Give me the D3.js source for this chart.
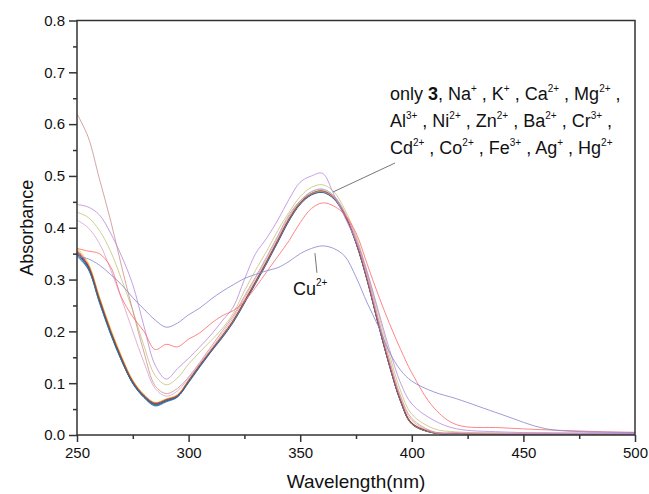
<!DOCTYPE html>
<html>
<head>
<meta charset="utf-8">
<script src="https://cdn.jsdelivr.net/npm/d3@7"></script>
<style>
  body { margin: 0; background: #fff; }
  svg { font-family: Arial, "Liberation Sans", sans-serif; }
</style>
</head>
<body>
<svg id="chart" width="649" height="494"></svg>
<script>
// wavelengths (nm)
const wl = [250,255,260,265,270,275,280,285,290,295,300,305,310,315,320,325,330,335,340,345,350,355,360,365,370,375,380,385,390,395,400,410,420,440,460,480,500];

// absorbance per sample
const only3 = [.352,.326,.262,.200,.147,.102,.075,.060,.068,.075,.104,.134,.162,.190,.220,.257,.295,.334,.375,.416,.447,.465,.470,.458,.425,.372,.300,.215,.135,.066,.022,.004,.003,.002,.003,.002,.003];
const na = [.350,.322,.258,.196,.143,.100,.073,.058,.066,.074,.102,.133,.161,.189,.219,.256,.294,.333,.374,.415,.446,.464,.469,.457,.424,.371,.299,.214,.134,.065,.021,.004,.003,.002,.002,.003,.002];
const k = [.345,.320,.256,.195,.143,.099,.072,.056,.064,.073,.101,.131,.160,.187,.217,.254,.292,.331,.372,.413,.445,.463,.468,.456,.423,.370,.298,.213,.133,.064,.021,.004,.002,.003,.002,.002,.002];
const ca = [.348,.323,.259,.198,.146,.101,.074,.059,.067,.075,.104,.134,.163,.191,.221,.259,.297,.337,.378,.419,.451,.469,.474,.462,.428,.374,.302,.216,.136,.067,.023,.005,.003,.003,.002,.002,.003];
const mg = [.356,.328,.264,.202,.149,.104,.077,.062,.069,.077,.106,.136,.164,.191,.221,.258,.296,.335,.376,.417,.448,.466,.471,.459,.426,.373,.301,.216,.136,.067,.023,.005,.003,.002,.003,.003,.002];
const al = [.362,.332,.268,.206,.152,.106,.078,.063,.070,.078,.106,.136,.164,.192,.222,.259,.297,.336,.377,.418,.449,.467,.472,.460,.427,.375,.303,.218,.138,.069,.024,.005,.003,.003,.002,.002,.003];
const ni = [.350,.324,.260,.198,.145,.100,.074,.059,.066,.074,.103,.133,.162,.189,.219,.256,.294,.333,.374,.415,.446,.464,.469,.457,.424,.371,.299,.214,.134,.065,.022,.004,.003,.002,.002,.002,.003];
const zn = [.347,.321,.257,.197,.144,.100,.073,.057,.065,.074,.102,.132,.161,.188,.218,.255,.293,.332,.373,.414,.446,.464,.469,.457,.424,.371,.299,.214,.134,.065,.022,.004,.003,.003,.002,.002,.002];
const ba = [.358,.330,.266,.204,.150,.105,.078,.062,.069,.077,.105,.135,.163,.190,.220,.257,.295,.334,.375,.416,.447,.465,.470,.458,.425,.372,.300,.215,.135,.066,.022,.004,.003,.002,.003,.002,.002];
const cr = [.354,.327,.263,.201,.148,.103,.076,.061,.068,.076,.105,.135,.163,.191,.221,.258,.296,.335,.376,.417,.448,.466,.471,.459,.426,.373,.301,.216,.136,.067,.023,.005,.003,.002,.002,.003,.002];
const cd = [.430,.420,.395,.355,.300,.240,.172,.115,.097,.110,.137,.160,.182,.205,.235,.278,.318,.355,.395,.430,.460,.478,.483,.470,.435,.385,.315,.235,.155,.085,.040,.012,.006,.004,.004,.003,.003];
const co = [.620,.575,.495,.415,.325,.240,.160,.095,.080,.090,.112,.140,.170,.200,.230,.268,.305,.344,.385,.425,.452,.466,.470,.458,.428,.380,.310,.225,.145,.075,.032,.006,.004,.003,.003,.002,.003];
const fe = [.415,.400,.370,.320,.262,.200,.140,.090,.075,.085,.110,.138,.166,.195,.226,.264,.302,.341,.382,.422,.452,.470,.475,.462,.430,.378,.306,.222,.142,.072,.028,.005,.004,.003,.002,.003,.002];
const ag = [.445,.440,.425,.390,.345,.290,.210,.135,.108,.128,.148,.170,.193,.220,.247,.300,.350,.380,.415,.455,.488,.500,.505,.465,.420,.375,.315,.240,.165,.100,.060,.028,.012,.006,.004,.004,.003];
const hg = [.360,.355,.350,.325,.265,.228,.200,.165,.175,.170,.185,.197,.215,.230,.240,.258,.285,.315,.345,.375,.410,.437,.448,.442,.425,.390,.330,.270,.215,.165,.120,.052,.020,.014,.010,.007,.005];
const cu = [.345,.340,.328,.310,.290,.265,.243,.222,.208,.216,.232,.245,.262,.277,.290,.302,.310,.317,.323,.335,.350,.360,.365,.360,.345,.305,.255,.210,.160,.125,.104,.083,.070,.040,.012,.006,.005];

const series = [
  {values: only3, color: "#222222"},
  {values: na, color: "#30b830"},
  {values: k, color: "#3050e0"},
  {values: ca, color: "#30d0e0"},
  {values: mg, color: "#d830d0"},
  {values: al, color: "#e0d830"},
  {values: ni, color: "#303088"},
  {values: zn, color: "#208080"},
  {values: ba, color: "#f09030"},
  {values: cr, color: "#a03050"},
  {values: cd, color: "#c8c078"},
  {values: co, color: "#c89090"},
  {values: fe, color: "#d8a0c8"},
  {values: ag, color: "#b888dc"},
  {values: hg, color: "#ff6868"},
  {values: cu, color: "#8484d0"}
];

const xTicks = [250, 300, 350, 400, 450, 500];
const yTicks = [0, 0.1, 0.2, 0.3, 0.4, 0.5, 0.6, 0.7, 0.8];

const svg = d3.select("#chart");
const margin = {left: 77, right: 14, top: 20.5, bottom: 59};
const W = 649, H = 494;

const x = d3.scaleLinear().domain([250, 500]).range([margin.left, W - margin.right]);
const y = d3.scaleLinear().domain([0, 0.8]).range([H - margin.bottom, margin.top]);

const line = d3.line()
  .x((d, i) => x(wl[i]))
  .y(d => y(d))
  .curve(d3.curveCatmullRom);

svg.append("g")
  .selectAll("path")
  .data(series)
  .join("path")
  .attr("d", d => line(d.values))
  .attr("fill", "none")
  .attr("stroke", d => d.color)
  .attr("stroke-width", 1)
  .attr("stroke-opacity", 0.8);

// frame
svg.append("rect")
  .attr("x", x(250)).attr("y", y(0.8))
  .attr("width", x(500) - x(250)).attr("height", y(0) - y(0.8))
  .attr("fill", "none").attr("stroke", "#333").attr("stroke-width", 1.5);

// axes
const xMinor = d3.axisBottom(x).tickValues([275, 325, 375, 425, 475]).tickSize(4).tickFormat("");
const yMinor = d3.axisLeft(y).tickValues([0.05, 0.15, 0.25, 0.35, 0.45, 0.55, 0.65, 0.75]).tickSize(4).tickFormat("");

const gx = svg.append("g").attr("transform", `translate(0,${y(0)})`);
gx.call(d3.axisBottom(x).tickValues(xTicks).tickSize(7).tickPadding(5).tickFormat(d3.format("d")));
gx.append("g").call(xMinor);

const gy = svg.append("g").attr("transform", `translate(${x(250)},0)`);
gy.call(d3.axisLeft(y).tickValues(yTicks).tickSize(8).tickPadding(4).tickFormat(d3.format(".1f")));
gy.append("g").call(yMinor);

svg.selectAll(".domain").remove();
svg.selectAll(".tick line").attr("stroke", "#333").attr("stroke-width", 1.5);
svg.selectAll(".tick text").attr("font-size", 15).attr("fill", "#111")
  .attr("font-family", "Arial, 'Liberation Sans', sans-serif");

// axis titles
svg.append("text")
  .attr("x", x(375)).attr("y", 488)
  .attr("text-anchor", "middle").attr("font-size", 19).attr("fill", "#111")
  .text("Wavelength(nm)");

svg.append("text")
  .attr("transform", `translate(33,${(y(0) + y(0.8)) / 2}) rotate(-90)`)
  .attr("text-anchor", "middle").attr("font-size", 18).attr("fill", "#111")
  .text("Absorbance");

// annotations
const ann = svg.append("g").attr("fill", "#111").attr("font-size", 18);

ann.append("line")
  .attr("x1", x(364.7)).attr("y1", y(0.469))
  .attr("x2", x(392.5)).attr("y2", y(0.525))
  .attr("stroke", "#777").attr("stroke-width", 1);

// [text, kind]: 0 normal, 1 superscript, 2 bold
const lines = [
  [["only ", 0], ["3", 2], [", Na", 0], ["+", 1], [" , K", 0], ["+", 1], [" , Ca", 0], ["2+", 1], [" , Mg", 0], ["2+", 1], [" ,", 0]],
  [["Al", 0], ["3+", 1], [" , Ni", 0], ["2+", 1], [" , Zn", 0], ["2+", 1], [" , Ba", 0], ["2+", 1], [" , Cr", 0], ["3+", 1], [" ,", 0]],
  [["Cd", 0], ["2+", 1], [" , Co", 0], ["2+", 1], [" , Fe", 0], ["3+", 1], [" , Ag", 0], ["+", 1], [" , Hg", 0], ["2+", 1]]
];
const baselines = [0.647, 0.595, 0.542];

lines.forEach((parts, i) => {
  const t = ann.append("text")
    .attr("x", x(390.2)).attr("y", y(baselines[i]))
    .attr("xml:space", "preserve");
  let up = false;
  parts.forEach(([s, kind]) => {
    const ts = t.append("tspan").text(s);
    if (kind === 1) {
      ts.attr("font-size", 10).attr("dy", -8);
      up = true;
    } else {
      if (up) ts.attr("dy", 8);
      up = false;
      if (kind === 2) ts.attr("font-weight", "bold");
    }
  });
});

ann.append("line")
  .attr("x1", x(356.6)).attr("y1", y(0.351))
  .attr("x2", x(357.5)).attr("y2", y(0.313))
  .attr("stroke", "#777").attr("stroke-width", 1);

const cuText = ann.append("text").attr("x", x(346.8)).attr("y", y(0.27));
cuText.append("tspan").text("Cu");
cuText.append("tspan").text("2+").attr("font-size", 10).attr("dy", -9);
</script>
</body>
</html>
